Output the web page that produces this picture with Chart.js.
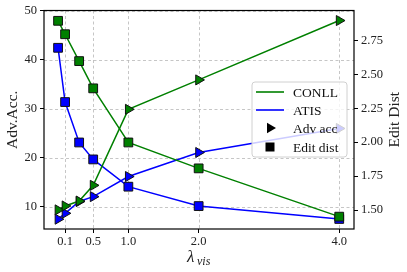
<!DOCTYPE html>
<html>
<head>
<meta charset="utf-8">
<script src="https://cdn.jsdelivr.net/npm/chart.js@4/dist/chart.umd.min.js"></script>
<style>
html,body{margin:0;padding:0;background:#fff;}
#wrap{width:407px;height:272px;}
</style>
</head>
<body>
<div id="wrap"><canvas id="c" width="407" height="272"></canvas></div>
<script>
const xValues = [0, 0.1, 0.3, 0.5, 1.0, 2.0, 4.0];
const conllAdvAcc = [9.4, 10.2, 11.2, 14.4, 29.9, 35.9, 48.0];
const atisAdvAcc = [7.5, 8.7, 11.1, 12.1, 16.2, 21.1, 26.0];
const conllEditDist = [2.895, 2.796, 2.598, 2.397, 1.998, 1.807, 1.451];
const atisEditDist = [2.696, 2.296, 1.998, 1.873, 1.672, 1.529, 1.434];
const xTicks = [0.1, 0.5, 1.0, 2.0, 4.0];
const leftTicks = [10, 20, 30, 40, 50];
const rightTicks = [1.50, 1.75, 2.00, 2.25, 2.50, 2.75];
const seriesNames = ['CONLL', 'ATIS'];
const markerNames = ['Adv acc', 'Edit dist'];

const GREEN = '#008000', BLUE = '#0000ff';
const SERIF = '"Liberation Serif", "DejaVu Serif", serif';
const tickFont = {family: SERIF, size: 12.5};

function pts(ys){ return xValues.map((x,i)=>({x:x, y:ys[i]})); }

function ds(label, ys, color, axis, style, order){
  return {
    label: label, data: pts(ys), yAxisID: axis,
    borderColor: color, backgroundColor: color, borderWidth: 1.5,
    pointStyle: style, rotation: style==='triangle'?90:0,
    pointRadius: style==='triangle'?5.8:6.2, pointHoverRadius: 6,
    pointBackgroundColor: color, pointBorderColor: '#111', pointBorderWidth: 1,
    tension: 0, order: order
  };
}

const gridPlugin = {
  id: 'dashgrid',
  beforeDatasetsDraw(chart){
    const {ctx, chartArea: a, scales} = chart;
    ctx.save();
    ctx.strokeStyle = '#b8b8b8'; ctx.lineWidth = 0.8; ctx.setLineDash([3,2.5]);
    xTicks.forEach(v => {
      const x = Math.round(scales.x.getPixelForValue(v)) + 0.5;
      ctx.beginPath(); ctx.moveTo(x, a.top); ctx.lineTo(x, a.bottom); ctx.stroke();
    });
    leftTicks.forEach(v => {
      const y = Math.round(scales.yL.getPixelForValue(v)) + 0.5;
      ctx.beginPath(); ctx.moveTo(a.left, y); ctx.lineTo(a.right, y); ctx.stroke();
    });
    ctx.restore();
  }
};

const framePlugin = {
  id: 'frame',
  afterDatasetsDraw(chart){
    const {ctx, chartArea: a} = chart;
    ctx.save();
    // legend
    const bx=252, by=82, bw=95, bh=75, r=3;
    ctx.beginPath();
    ctx.moveTo(bx+r,by); ctx.lineTo(bx+bw-r,by); ctx.arcTo(bx+bw,by,bx+bw,by+r,r);
    ctx.lineTo(bx+bw,by+bh-r); ctx.arcTo(bx+bw,by+bh,bx+bw-r,by+bh,r);
    ctx.lineTo(bx+r,by+bh); ctx.arcTo(bx,by+bh,bx,by+bh-r,r);
    ctx.lineTo(bx,by+r); ctx.arcTo(bx,by,bx+r,by,r); ctx.closePath();
    ctx.fillStyle='rgba(255,255,255,0.8)'; ctx.fill();
    ctx.strokeStyle='#d0d0d0'; ctx.lineWidth=1; ctx.stroke();
    const rows=[92,110,128,147];
    ctx.lineWidth=1.6;
    ctx.strokeStyle=GREEN; ctx.beginPath(); ctx.moveTo(256,rows[0]); ctx.lineTo(284,rows[0]); ctx.stroke();
    ctx.strokeStyle=BLUE; ctx.beginPath(); ctx.moveTo(256,rows[1]); ctx.lineTo(284,rows[1]); ctx.stroke();
    ctx.fillStyle='#000';
    const cx=270, tr=6;
    ctx.beginPath(); ctx.moveTo(cx+tr,rows[2]); ctx.lineTo(cx-tr/2,rows[2]-tr*0.866); ctx.lineTo(cx-tr/2,rows[2]+tr*0.866); ctx.closePath(); ctx.fill();
    ctx.fillRect(cx-4.5,rows[3]-4.5,9,9);
    ctx.font='13.5px '+SERIF; ctx.textBaseline='middle'; ctx.textAlign='left'; ctx.fillStyle='#111';
    const labels=[seriesNames[0],seriesNames[1],markerNames[0],markerNames[1]];
    labels.forEach((t,i)=>ctx.fillText(t,293,rows[i]+1));
    // frame
    ctx.strokeStyle='#000'; ctx.lineWidth=1.2; ctx.setLineDash([]);
    ctx.strokeRect(a.left, a.top, a.right-a.left, a.bottom-a.top);
    // axis titles
    ctx.fillStyle='#222';
    ctx.font='15.5px '+SERIF; ctx.textAlign='center'; ctx.textBaseline='middle';
    const cy=(a.top+a.bottom)/2;
    ctx.save(); ctx.translate(13,cy); ctx.rotate(-Math.PI/2); ctx.fillText('Adv.Acc.',0,0); ctx.restore();
    ctx.save(); ctx.translate(395,cy); ctx.rotate(-Math.PI/2); ctx.fillText('Edit Dist',0,0); ctx.restore();
    // x title lambda_vis
    const mx=(a.left+a.right)/2;
    ctx.textAlign='left'; ctx.textBaseline='alphabetic';
    ctx.font='italic 17px '+SERIF;
    ctx.fillText('λ', mx-12, 262);
    ctx.font='italic 12px '+SERIF;
    ctx.fillText('vis', mx-2, 265);
    ctx.restore();
  }
};

new Chart(document.getElementById('c'), {
  type: 'line',
  data: { datasets: [
    ds('CONLL Adv acc', conllAdvAcc, GREEN, 'yL', 'triangle', 1),
    ds('ATIS Adv acc', atisAdvAcc, BLUE, 'yL', 'triangle', 2),
    ds('CONLL Edit dist', conllEditDist, GREEN, 'yR', 'rect', 1),
    ds('ATIS Edit dist', atisEditDist, BLUE, 'yR', 'rect', 2)
  ]},
  options: {
    responsive: false, animation: false, devicePixelRatio: 1,
    layout: {padding: {top: 10, left: 0, right: 0, bottom: 0}},
    plugins: {legend: {display: false}, tooltip: {enabled: false}},
    scales: {
      x: {
        type: 'linear', min: -0.2, max: 4.21,
        afterBuildTicks: s => { s.ticks = xTicks.map(v=>({value:v})); },
        afterFit: s => { s.height = 43; },
        ticks: {font: tickFont, color: '#222', padding: 1, maxRotation: 0, autoSkip: false,
                callback: v => Number(v).toFixed(1)},
        grid: {drawOnChartArea: false, tickColor: '#000', tickLength: 4, tickWidth: 1},
        border: {display: false}
      },
      yL: {
        type: 'linear', position: 'left', min: 5.5, max: 50.05,
        afterBuildTicks: s => { s.ticks = leftTicks.map(v=>({value:v})); },
        afterFit: s => { s.width = 44; },
        ticks: {font: tickFont, color: '#222', padding: 3, autoSkip: false, callback: v => String(v)},
        grid: {drawOnChartArea: false, tickColor: '#000', tickLength: 4, tickWidth: 1},
        border: {display: false}
      },
      yR: {
        type: 'linear', position: 'right', min: 1.36, max: 2.971,
        afterBuildTicks: s => { s.ticks = rightTicks.map(v=>({value:v})); },
        afterFit: s => { s.width = 53; },
        ticks: {font: tickFont, color: '#222', padding: 3, autoSkip: false, callback: v => Number(v).toFixed(2)},
        grid: {drawOnChartArea: false, tickColor: '#000', tickLength: 4, tickWidth: 1},
        border: {display: false}
      }
    }
  },
  plugins: [gridPlugin, framePlugin]
});
</script>
</body>
</html>
